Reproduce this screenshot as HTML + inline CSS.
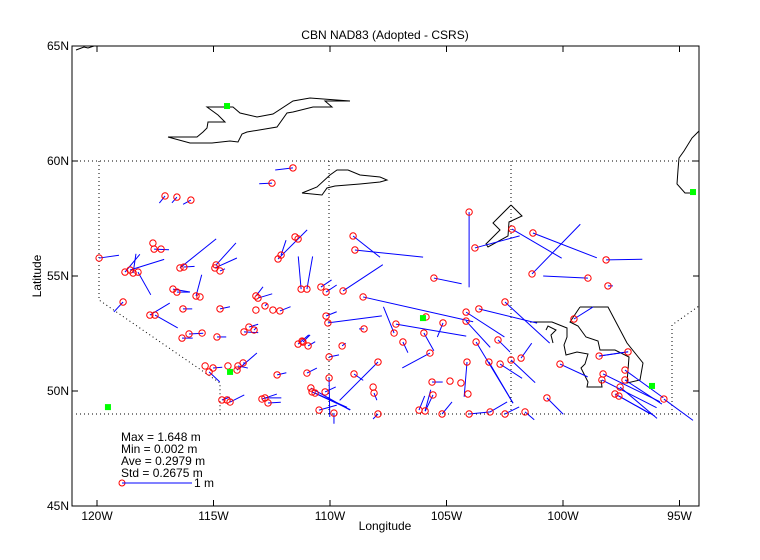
<!DOCTYPE html>
<html><head><meta charset="utf-8"><style>
html,body{margin:0;padding:0;background:#fff;}
svg{display:block;font-family:"Liberation Sans",sans-serif;}
</style></head><body>
<svg id="chart" width="760" height="560" viewBox="0 0 760 560">
<rect width="760" height="560" fill="#fff"/>
<text x="385" y="39" font-size="12" text-anchor="middle">CBN NAD83 (Adopted - CSRS)</text>
<text x="385" y="530" font-size="12" text-anchor="middle">Longitude</text>
<text x="41" y="276" font-size="12" text-anchor="middle" transform="rotate(-90 41 276)">Latitude</text>
<g id="geo" fill="none" stroke="#000" stroke-width="1">
<polyline points="168,137 197,137 203,132 207,128 208,122 225,122 218,115 207,107 226,107 233,107 240,113 257,117 273,114 293,101 310,98 350,101 325,101 332,107 313,107 293,112 287,113 277,127 247,132 242,134 238,142 230,141 212,143 190,143 168,137"/>
<polyline points="302,193 317,187 330,175 337,170 348,170 360,175 380,177 387,180 380,182 360,184 335,186 327,188 322,195 302,193"/>
<polyline points="511,205 522,216 509,222 508,236 488,247 486,244 500,230 493,223 511,205"/>
<polyline points="580,307 608,307 627,343 643,363 640,380 627,383 629,357 615,350 600,350 598,341 586,337 578,326 570,322 580,307"/>
<polyline points="530,322 552,322 567,328 567,337 564,345 566,355 577,352 588,354 585,364 581,368 588,382 587,387 602,387 601,380"/>
<polyline points="546,330 548,326 556,330 551,335 553,343"/>
<polyline points="699,131 692,138 684,151 679,158 678,170 677,184 685,193 694,193"/>
<polyline points="76,50 84,47 88,48 94,46"/>
</g>
<g fill="none" stroke="#000" stroke-width="1" stroke-dasharray="1,3">
<line x1="76" y1="161" x2="699" y2="161"/>
<line x1="76" y1="414" x2="699" y2="414"/>
<polyline points="99,161 99,300 220,383 220,414"/>
<line x1="329" y1="161" x2="329" y2="414"/>
<line x1="511" y1="161" x2="511" y2="414"/>
<polyline points="672,414 672,325 699,306"/>
</g>
<g id="axes"></g>
<g id="vectors"></g>
<g id="stations"></g>
<g id="refs"></g>
<g font-size="12">
<text x="121" y="441">Max = 1.648 m</text>
<text x="121" y="453">Min = 0.002 m</text>
<text x="121" y="465">Ave = 0.2979 m</text>
<text x="121" y="477">Std = 0.2675 m</text>
<circle cx="122" cy="483" r="3" fill="none" stroke="#f00"/>
<line x1="122" y1="483" x2="192" y2="483" stroke="#00f"/>
<text x="194" y="487">1 m</text>
</g>
</svg>
<script>
const lonTicks=[-120,-115,-110,-105,-100,-95];
const lonLabels=["120W","115W","110W","105W","100W","95W"];
const latTicks=[45,50,55,60,65];
const latLabels=["45N","50N","55N","60N","65N"];
const lon=[-111.59,-112.49,-117.08,-116.57,-115.97,-117.60,-117.55,-117.25,-119.91,-118.80,-118.58,-118.24,-118.45,-116.44,-116.27,-114.89,-114.94,-114.72,-112.23,-112.10,-111.50,-111.37,-111.24,-110.99,-110.39,-110.17,-116.74,-116.57,-115.75,-115.58,-118.88,-117.73,-117.51,-116.31,-114.72,-113.18,-113.09,-113.18,-112.79,-112.45,-112.15,-110.17,-110.09,-116.35,-116.05,-115.49,-114.85,-113.69,-113.48,-113.26,-111.37,-111.20,-110.94,-110.04,-110.04,-112.27,-110.99,-115.36,-115.19,-115.02,-114.38,-113.99,-113.95,-113.73,-114.64,-114.42,-114.29,-112.92,-112.79,-112.66,-110.82,-110.77,-110.64,-110.21,-110.47,-109.83,-104.03,-103.78,-102.19,-101.29,-101.33,-109.01,-108.93,-105.54,-109.44,-108.58,-108.54,-107.25,-107.17,-105.88,-105.15,-105.97,-106.87,-105.71,-104.16,-104.16,-103.61,-102.49,-103.73,-102.79,-103.18,-102.70,-102.23,-101.80,-104.12,-104.08,-104.38,-104.85,-105.62,-105.58,-106.18,-105.92,-105.19,-104.03,-103.13,-102.49,-101.63,-100.69,-107.94,-108.97,-108.15,-108.11,-107.94,-109.48,-111.16,-98.15,-98.93,-98.07,-99.53,-98.45,-97.21,-98.28,-98.33,-97.55,-97.77,-97.60,-97.34,-97.34,-95.67,-100.13];
const lat=[59.70,59.04,58.48,58.43,58.30,56.43,56.17,56.17,55.78,55.17,55.26,55.17,55.13,55.35,55.39,55.48,55.35,55.22,55.74,55.91,56.70,56.61,54.43,54.43,54.52,54.30,54.43,54.30,54.13,54.09,53.87,53.30,53.30,53.57,53.57,54.13,54.04,53.52,53.70,53.52,53.48,53.26,52.96,52.30,52.48,52.52,52.35,52.57,52.78,52.65,52.04,52.17,51.96,51.48,50.57,50.70,50.78,51.09,50.83,51.00,51.09,50.91,51.09,51.22,49.61,49.61,49.52,49.65,49.70,49.48,50.13,49.96,49.91,49.96,49.17,49.04,57.78,56.22,57.04,56.87,55.09,56.74,56.13,54.91,54.35,54.09,52.70,52.52,52.91,53.22,52.96,52.52,52.13,51.65,53.43,53.04,53.57,53.87,52.13,52.22,51.26,51.17,51.35,51.43,51.26,49.87,50.35,50.43,50.39,49.83,49.17,49.13,49.00,49.00,49.09,49.00,49.09,49.70,51.26,50.74,50.17,49.91,49.00,51.96,52.13,55.70,54.91,54.57,53.13,51.52,51.70,50.74,50.48,50.17,49.87,49.78,50.91,50.48,49.65,51.17];
const east=[-0.25,-0.18,-0.08,-0.07,-0.11,0,0.21,0,0.28,0.21,0.48,0.18,0.04,0.51,0.15,0.28,0.31,0.07,0.41,0.07,0,0,-0.04,0.08,0.15,0.15,0.24,0.18,0.08,0,-0.13,0.28,0.32,0.13,0.14,0.10,0.20,0,0.03,0,0.15,0.15,0.76,0.15,0.20,0,0.13,0.20,0.13,0.04,0.15,0,0.10,0.14,0.01,0.13,0.14,0,0.15,0.13,0,0.28,0.14,0.04,0.11,0,0.20,0.21,0.23,0.18,0.55,0.54,0.45,0.15,0.25,0,0,0.63,0.70,0.90,0.68,0.38,0.96,0.39,0.56,1.55,-0.07,-0.15,0.99,0,-0.08,0.14,0.07,-0.39,0.54,0.34,0.82,0.63,0.52,0.17,0.34,0.31,0.34,0.15,-0.04,0,0,0,0.15,-0.11,0.08,0.08,0.14,0.30,0.24,0.20,0.13,0.23,-0.54,0.13,0,0.04,-0.07,0.05,0.10,0.51,-0.63,0.07,0.27,0.41,-0.41,0.80,0.77,0.52,0.56,0.44,0.54,0.52,0.41,0.39];
const north=[-0.03,-0.01,-0.10,-0.08,-0.06,0,-0.01,0,0.04,0.25,0.15,-0.32,0.27,0.41,0.01,0.31,0.14,0.03,0.41,0.21,0,0,0.46,0.46,0.10,0.10,-0.04,0,0.30,0,-0.14,0.17,-0.18,0,0.03,0.13,0.06,0,0.03,0,0.06,0.06,0.10,0,0.01,0,0,-0.01,0.04,0.04,0.13,0,0.06,0.03,-0.55,0.03,0.07,0,-0.14,0.01,0,0.24,-0.03,0,0.04,0,0.10,0.07,0,0.01,-0.31,-0.25,-0.20,0.07,0.07,-0.15,-1.06,0.17,-0.41,-0.35,0.70,-0.30,-0.10,-0.08,0.37,-0.35,0,0.37,-0.17,0,-0.20,-0.25,-0.15,-0.21,-0.35,-0.37,-0.20,-0.58,-0.86,-0.17,-0.58,-0.20,-0.32,0.21,-0.49,0,0,0,0,-0.23,0.20,0.30,0.17,0.03,0.14,0.10,-0.11,-0.23,-0.54,-0.09,0,-0.10,-0.07,0.04,0.10,0.01,0.03,0,0.17,0.06,-0.06,-0.39,-0.39,-0.44,-0.31,-0.25,-0.39,-0.34,-0.30,-0.18];
const refLon=[-114.42,-106.01,-114.29,-119.53,-96.18,-94.42];
const refLat=[62.39,53.17,50.83,49.30,50.22,58.65];
const vecScale=71; // px per metre
const X=l=>97+(l+120)*23.3;
const Y=l=>391-(l-50)*23;
const NS="http://www.w3.org/2000/svg";
function mk(tag,attrs,parent){const e=document.createElementNS(NS,tag);for(const k in attrs)e.setAttribute(k,attrs[k]);parent.appendChild(e);return e;}
const ax=document.getElementById('axes');
const L=72,R=699,T=46,B=506;
const box=mk('rect',{x:L,y:T,width:R-L,height:B-T,fill:'none',stroke:'#000'},ax);


lonTicks.forEach((v,i)=>{const x=X(v);
 const t1=mk('line',{x1:x,y1:B,x2:x,y2:B-6,stroke:'#000'},ax);
 
 
 const t2=mk('line',{x1:x,y1:T,x2:x,y2:T+6,stroke:'#000'},ax);
 
 
 const tx=mk('text',{x:x,y:B+14,'font-size':12,'text-anchor':'middle'},ax);tx.textContent=lonLabels[i];
 
 
});
latTicks.forEach((v,i)=>{const y=Y(v);
 const t1=mk('line',{x1:L,y1:y,x2:L+6,y2:y,stroke:'#000'},ax);
 
 
 const t2=mk('line',{x1:R,y1:y,x2:R-6,y2:y,stroke:'#000'},ax);
 
 
 const tx=mk('text',{x:L-3,y:y+4,'font-size':12,'text-anchor':'end'},ax);tx.textContent=latLabels[i];
 
 
});
const vg=document.getElementById('vectors'),sg=document.getElementById('stations'),rg=document.getElementById('refs');
lon.forEach((lo,i)=>{const x=X(lo),y=Y(lat[i]);
 const ln=mk('line',{x1:x,y1:y,x2:x+east[i]*vecScale,y2:y-north[i]*vecScale,stroke:'#00f','stroke-width':1},vg);
 
 
 const c=mk('circle',{cx:x,cy:y,r:3.2,fill:'none',stroke:'#f00','stroke-width':1},sg);
 
 
});
refLon.forEach((lo,i)=>{const x=X(lo),y=Y(refLat[i]);
 const r=mk('rect',{x:x-3,y:y-3,width:6,height:6,fill:'#0f0'},rg);
 
 
});
</script>
</body></html>
